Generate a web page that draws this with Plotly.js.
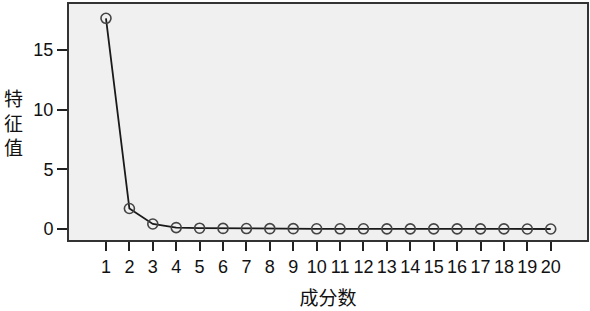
<!DOCTYPE html>
<html>
<head>
<meta charset="utf-8">
<script src="https://cdn.plot.ly/plotly-3.0.1.min.js"></script>
<style>html,body{margin:0;padding:0;background:#fff;}#chart{width:590px;height:311px;}</style>
</head>
<body>
<div id="chart"></div>
<script>
const components = [1,2,3,4,5,6,7,8,9,10,11,12,13,14,15,16,17,18,19,20];
const eigenvalues = [17.65,1.72,0.42,0.12,0.07,0.05,0.04,0.03,0.03,0.02,0.02,0.02,0.01,0.01,0.01,0.01,0.01,0.01,0.00,0.00];
const xTickLabels = components.map(String);
const yTicks = [0,5,10,15];

const trace = {
  x: components, y: eigenvalues, type: 'scatter', mode: 'lines+markers',
  line: {color: '#1a1a1a', width: 1.8},
  marker: {symbol: 'circle-open', size: 10, color: '#444', line: {width: 1.6, color: '#444'}},
  hoverinfo: 'skip'
};
const fontFam = '"Liberation Sans", Arial, sans-serif';
const layout = {
  width: 590, height: 311,
  margin: {l: 69, r: 3, t: 4, b: 71, autoexpand: false},
  paper_bgcolor: '#ffffff', plot_bgcolor: '#f0f0f0',
  showlegend: false,
  xaxis: {
    range: [-0.58, 21.55], tickvals: components, ticktext: xTickLabels,
    ticks: 'outside', ticklen: 9, tickwidth: 2, tickcolor: '#222',
    showline: true, linecolor: '#333', linewidth: 2, mirror: true,
    showgrid: false, zeroline: false,
    tickfont: {family: fontFam, size: 18, color: '#111'},
    title: {text: '成分数', standoff: 16, font: {family: '"Noto Sans CJK SC", sans-serif', size: 19, color: '#111'}}
  },
  yaxis: {
    range: [-0.92, 18.85], tickvals: yTicks, ticktext: yTicks.map(String),
    ticks: 'outside', ticklen: 10, tickwidth: 2, tickcolor: '#222',
    showline: true, linecolor: '#333', linewidth: 2, mirror: true,
    showgrid: false, zeroline: false,
    tickfont: {family: fontFam, size: 18, color: '#111'}
  },
  annotations: [
    {text: '特<br>征<br>值', xref: 'paper', yref: 'paper', x: -0.108, y: 0.5, xanchor: 'center', yanchor: 'middle',
     showarrow: false, borderpad: 0, font: {family: '"Noto Sans CJK SC", sans-serif', size: 19, color: '#111'}}
  ]
};
Plotly.newPlot('chart', [trace], layout, {displayModeBar: false, staticPlot: true});
</script>
</body>
</html>
